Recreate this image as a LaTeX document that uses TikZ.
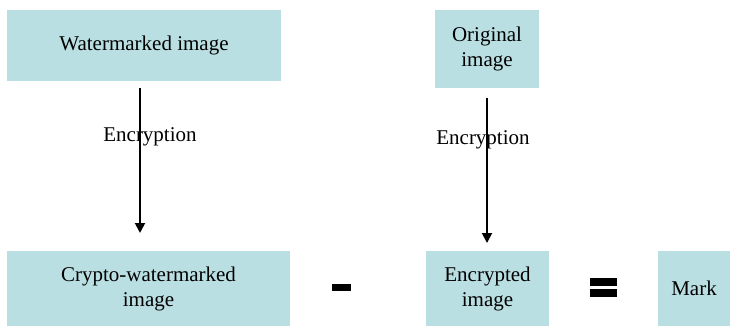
\documentclass[tikz,border=0pt]{standalone}
\usepackage{fontspec}
\setmainfont{Liberation Serif}
\usetikzlibrary{arrows.meta}
\definecolor{boxfill}{RGB}{186,223,227}
\tikzset{
  box/.style={fill=boxfill, draw=none, inner sep=0pt, align=center,
    font=\fontsize{21}{25}\selectfont},
  lbl/.style={font=\fontsize{21}{25}\selectfont, inner sep=0pt},
  flow/.style={line width=1.9pt, -{Triangle[length=10pt,width=10pt]}},
  bar/.style={fill=black, draw=none, inner sep=0pt}
}
\begin{document}
\begin{tikzpicture}[x=1pt,y=-1pt]
\useasboundingbox (0,0) rectangle (733,327);
% boxes
\node[box, minimum width=274pt, minimum height=71pt] (wm) at (144,45.5) {\raisebox{-1.5pt}{Watermarked image}};
\node[box, minimum width=104pt, minimum height=78pt] (orig) at (487,49) {Original\\image};
\node[box, minimum width=283pt, minimum height=75pt] (cw) at (148.5,288.5) {Crypto-watermarked\\image};
\node[box, minimum width=123pt, minimum height=75pt] (enc) at (487.5,288.5) {Encrypted\\image};
\node[box, minimum width=72pt, minimum height=75pt] (mark) at (694,288.5) {\raisebox{-1.5pt}{Mark}};
% operators
\node[bar, minimum width=19pt, minimum height=7pt] (minus) at (341,287) {};
\node[bar, minimum width=27pt, minimum height=7.5pt] (eq1) at (603.5,282) {};
\node[bar, minimum width=27pt, minimum height=7.5pt] (eq2) at (603.5,293) {};
% arrows
\coordinate (a1s) at (140,88);
\coordinate (a1e) at (140,233);
\coordinate (a2s) at (487,98);
\coordinate (a2e) at (487,243);
\draw[flow] (a1s) -- (a1e);
\draw[flow] (a2s) -- (a2e);
% labels
\node[lbl] (e1) at (150,137) {Encryption};
\node[lbl] (e2) at (483,140) {Encryption};
\end{tikzpicture}
\end{document}
